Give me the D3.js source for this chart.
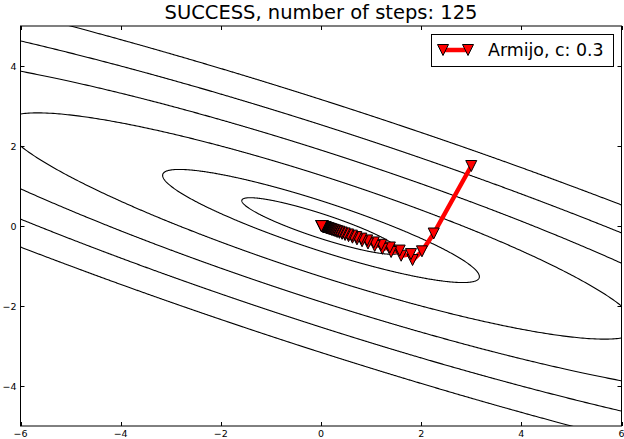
<!DOCTYPE html>
<html><head><meta charset="utf-8">
<script src="https://cdn.jsdelivr.net/npm/d3@7"></script>
<style>html,body{margin:0;padding:0;background:#fff;} svg{display:block;}</style>
</head><body>
<svg id="chart" width="624" height="439"></svg>
<script>
// ---- data ----
const titleText = "SUCCESS, number of steps: 125";
const legendLabel = "Armijo, c: 0.3";
const xTicks = [-6, -4, -2, 0, 2, 4, 6];
const yTicks = [-4, -2, 0, 2, 4];
const xDomain = [-6, 6];
const yDomain = [-5, 5];
// contour function f(x,y) = a*x^2 + b*x*y + c*y^2
const quadCoef = [1, 4, 5];
const contourLevels = [0.5, 2, 8, 18, 32, 50];
// iterates of the line-search descent
const stepX = [3, 2.25, 2.016,
  1.828, 1.796, 1.600, 1.571, 1.400, 1.375, 1.225, 1.203, 1.072, 1.053,
  0.938, 0.921, 0.820, 0.806, 0.718, 0.705, 0.628, 0.617, 0.550, 0.540,
  0.481, 0.472, 0.421, 0.413, 0.368, 0.362, 0.322, 0.317, 0.282, 0.277,
  0.247, 0.242, 0.216, 0.212, 0.189, 0.186, 0.165, 0.162, 0.145, 0.142,
  0.127, 0.124, 0.111, 0.109, 0.097, 0.095, 0.085, 0.083, 0.074, 0.073,
  0.065, 0.064, 0.057, 0.056, 0.050, 0.049, 0.043, 0.043, 0.038, 0.037,
  0.033, 0.033, 0.029, 0.029, 0.025, 0.025, 0.022, 0.022, 0.020, 0.019,
  0.017, 0.017, 0.015, 0.015, 0.013, 0.013, 0.011, 0.011, 0.010, 0.010,
  0.009, 0.009];
const stepY = [1.5, -0.1875, -0.633,
  -0.850, -0.702, -0.743, -0.614, -0.650, -0.537, -0.569, -0.470, -0.498, -0.411,
  -0.436, -0.360, -0.381, -0.315, -0.334, -0.276, -0.292, -0.241, -0.255, -0.211,
  -0.224, -0.185, -0.196, -0.162, -0.171, -0.141, -0.150, -0.124, -0.131, -0.108,
  -0.115, -0.095, -0.100, -0.083, -0.088, -0.072, -0.077, -0.063, -0.067, -0.056,
  -0.059, -0.049, -0.051, -0.042, -0.045, -0.037, -0.039, -0.033, -0.034, -0.028,
  -0.030, -0.025, -0.026, -0.022, -0.023, -0.019, -0.020, -0.017, -0.018, -0.015,
  -0.015, -0.013, -0.014, -0.011, -0.012, -0.010, -0.010, -0.009, -0.009, -0.007,
  -0.008, -0.007, -0.007, -0.006, -0.006, -0.005, -0.005, -0.004, -0.005, -0.004,
  -0.004, -0.003];

// ---- layout ----
const plotL = 20.5, plotR = 621.5, plotT = 26, plotB = 426;
const font = "'DejaVu Sans', 'Liberation Sans', sans-serif";
const svg = d3.select("#chart");
const x = d3.scaleLinear().domain(xDomain).range([plotL, plotR]);
const y = d3.scaleLinear().domain(yDomain).range([plotB, plotT]);
const fmt = t => (t < 0 ? "\u2212" + Math.abs(t) : String(t));

svg.append("rect").attr("width", 624).attr("height", 439).attr("fill", "#fff");
svg.append("defs").append("clipPath").attr("id", "clip")
  .append("rect").attr("x", plotL).attr("y", plotT)
  .attr("width", plotR - plotL).attr("height", plotB - plotT);

// ---- contours (ellipses of the quadratic at each level) ----
const [qa, qb, qc] = quadCoef;
const N = 2400;
const contourLine = d3.line().x(d => x(d[0])).y(d => y(d[1])).curve(d3.curveLinearClosed);
const gC = svg.append("g").attr("clip-path", "url(#clip)");
contourLevels.forEach(L => {
  const pts = d3.range(N).map(i => {
    const th = 2 * Math.PI * i / N, c = Math.cos(th), s = Math.sin(th);
    const r = Math.sqrt(L / (qa * c * c + qb * c * s + qc * s * s));
    return [r * c, r * s];
  });
  gC.append("path").attr("d", contourLine(pts))
    .attr("fill", "none").attr("stroke", "#000").attr("stroke-width", 1.1);
});

// ---- descent path ----
const pts = stepX.map((v, i) => [v, stepY[i]]);
const gP = svg.append("g").attr("clip-path", "url(#clip)");
gP.append("path").attr("d", d3.line().x(d => x(d[0])).y(d => y(d[1]))(pts))
  .attr("fill", "none").attr("stroke", "#ff0000").attr("stroke-width", 4.5)
  .attr("stroke-linejoin", "round");
const ms = 11;
const tri = `M${-ms/2},${-ms/2}L${ms/2},${-ms/2}L0,${ms/2}Z`;
gP.selectAll("path.mk").data(pts).enter().append("path").attr("class", "mk")
  .attr("d", tri).attr("transform", d => `translate(${x(d[0])},${y(d[1])})`)
  .attr("fill", "#ff0000").attr("stroke", "#000").attr("stroke-width", 1);

// ---- frame & ticks ----
const gA = svg.append("g").attr("stroke", "#000").attr("stroke-width", 1);
gA.append("rect").attr("x", plotL).attr("y", plotT)
  .attr("width", plotR - plotL).attr("height", plotB - plotT).attr("fill", "none");
const tl = 4;
xTicks.forEach(t => {
  const px = Math.round(x(t)) + 0.5;
  gA.append("line").attr("x1", px).attr("x2", px).attr("y1", plotB).attr("y2", plotB - tl);
  gA.append("line").attr("x1", px).attr("x2", px).attr("y1", plotT).attr("y2", plotT + tl);
});
yTicks.forEach(t => {
  const py = Math.round(y(t)) + 0.5;
  gA.append("line").attr("x1", plotL).attr("x2", plotL + tl).attr("y1", py).attr("y2", py);
  gA.append("line").attr("x1", plotR).attr("x2", plotR - tl).attr("y1", py).attr("y2", py);
});
svg.selectAll("text.xt").data(xTicks).enter().append("text").attr("class", "xt")
  .attr("x", d => x(d)).attr("y", 437).attr("text-anchor", "middle")
  .attr("font-family", font).attr("font-size", 9.5).text(fmt);
svg.selectAll("text.yt").data(yTicks).enter().append("text").attr("class", "yt")
  .attr("x", 16.5).attr("y", d => y(d) + 3.5).attr("text-anchor", "end")
  .attr("font-family", font).attr("font-size", 9.5).text(fmt);

// ---- title ----
svg.append("text").attr("x", (plotL + plotR) / 2).attr("y", 19)
  .attr("text-anchor", "middle").attr("font-family", font).attr("font-size", 19.5)
  .text(titleText);

// ---- legend ----
const lg = svg.append("g");
lg.append("rect").attr("x", 431.5).attr("y", 34.5).attr("width", 182).attr("height", 32)
  .attr("fill", "#fff").attr("stroke", "#000").attr("stroke-width", 1);
lg.append("line").attr("x1", 443).attr("x2", 468).attr("y1", 50).attr("y2", 50)
  .attr("stroke", "#ff0000").attr("stroke-width", 4.5);
[443, 468].forEach(px => {
  lg.append("path").attr("d", tri).attr("transform", `translate(${px},50)`)
    .attr("fill", "#ff0000").attr("stroke", "#000").attr("stroke-width", 1);
});
lg.append("text").attr("x", 488).attr("y", 56).attr("font-family", font)
  .attr("font-size", 17.4).text(legendLabel);
</script>
</body></html>
